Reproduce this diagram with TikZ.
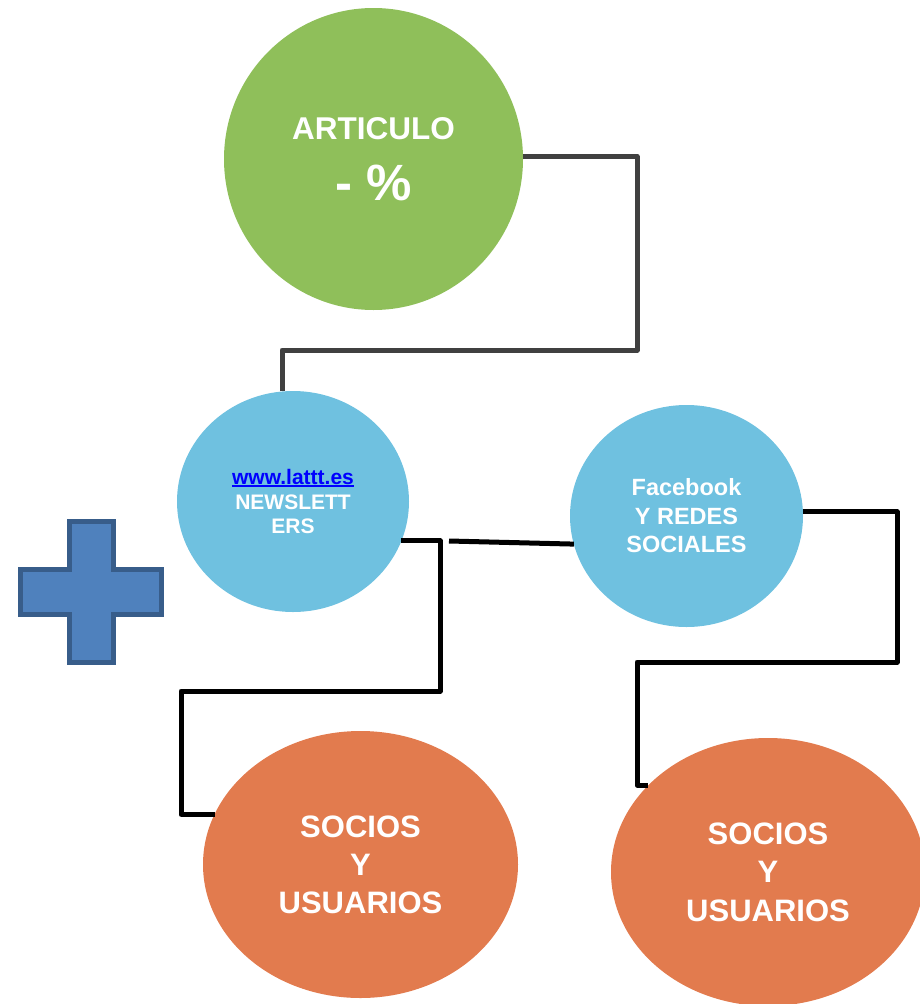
\documentclass[tikz,border=0pt]{standalone}
\usepackage{fontspec}
\setmainfont{Liberation Sans}
\usetikzlibrary{shapes.geometric}
\definecolor{artgreen}{HTML}{8FBF5A}
\definecolor{skyblue}{HTML}{6FC1E0}
\definecolor{orangefill}{HTML}{E27B4E}
\definecolor{plusfill}{HTML}{4F81BD}
\definecolor{plusline}{HTML}{385D8A}
\definecolor{darkline}{HTML}{404040}
\newcommand\thickul[1]{\setbox0\hbox{#1}\rlap{\raisebox{-2.6pt}{\rule{\wd0}{2.4pt}}}\box0}
\begin{document}
\begin{tikzpicture}[x=1pt,y=-1pt,
  bubble/.style={ellipse, inner sep=0pt, outer sep=0pt, align=center, text=white},
  conn/.style={line width=5pt, line join=round, line cap=butt},
]
\useasboundingbox (0,0) rectangle (920,1004);
\clip (0,0) rectangle (920,1004);
% bubbles
\node[bubble, fill=artgreen, minimum width=299pt, minimum height=302pt,
  font={\bfseries\fontsize{31.5}{61}\selectfont}] (art) at (373.5,159)
  {ARTICULO\\{\fontsize{51}{61}\selectfont - \%}};
\node[bubble, fill=skyblue, minimum width=232pt, minimum height=221pt,
  font={\bfseries\fontsize{21}{24.5}\selectfont}] (news) at (293,501.5)
  {\textcolor{blue}{\thickul{www.lattt.es}}\\NEWSLETT\\ERS};
\node[bubble, fill=skyblue, minimum width=233pt, minimum height=222pt,
  font={\bfseries\fontsize{23.5}{28.5}\selectfont}] (fb) at (686.5,516)
  {Facebook\\Y REDES\\SOCIALES};
\node[bubble, fill=orangefill, minimum width=315pt, minimum height=267pt,
  font={\bfseries\fontsize{31}{38}\selectfont}] (soc1) at (360.5,864.5)
  {SOCIOS\\Y\\USUARIOS};
\node[bubble, fill=orangefill, minimum width=314pt, minimum height=268pt,
  font={\bfseries\fontsize{31}{38.5}\selectfont}] (soc2) at (768,872)
  {SOCIOS\\Y\\USUARIOS};
% connectors
\draw[conn, darkline] (art.1) -| (637,350) -| ([xshift=-11pt]news.north);
\draw[conn, black] (news.-20) -| (440,691) -- (181,691) |- (soc1.161.6);
\coordinate (midstart) at (449,541);
\draw[conn, black] (midstart) -- (fb.194.2);
\draw[conn, black] (fb.2) -| (897,662) -- (637,662) |- (soc2.144.4);
% plus sign
\draw[line width=5pt, draw=plusline, fill=plusfill, line join=miter]
  (69.5,521.5) -- (113.5,521.5) -- (113.5,569.5) -- (161.5,569.5) -- (161.5,614.5)
  -- (113.5,614.5) -- (113.5,662.5) -- (69.5,662.5) -- (69.5,614.5) -- (20.5,614.5)
  -- (20.5,569.5) -- (69.5,569.5) -- cycle;
\end{tikzpicture}
\end{document}
